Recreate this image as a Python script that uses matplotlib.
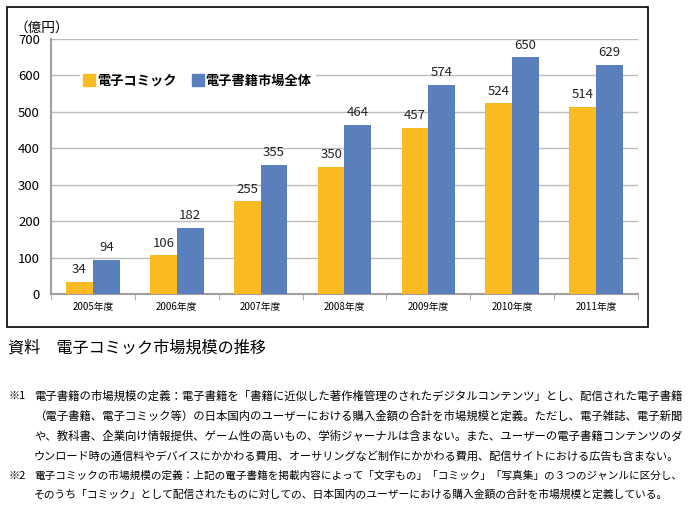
import matplotlib
matplotlib.use("Agg")
import matplotlib.pyplot as plt
import numpy as np
from matplotlib.patches import Rectangle
from matplotlib.lines import Line2D

plt.rcParams['font.family'] = ['Noto Sans CJK JP', 'DejaVu Sans']

years = ["2005年度", "2006年度", "2007年度", "2008年度", "2009年度", "2010年度", "2011年度"]
comic = [34, 106, 255, 350, 457, 524, 514]
total = [94, 182, 355, 464, 574, 650, 629]
series_names = ["電子コミック", "電子書籍市場全体"]
yticks = [0, 100, 200, 300, 400, 500, 600, 700]
ylabel = "（億円）"
caption = "資料　電子コミック市場規模の推移"
notes = [
    ("※1", "電子書籍の市場規模の定義：電子書籍を「書籍に近似した著作権管理のされたデジタルコンテンツ」とし、配信された電子書籍"),
    ("", "（電子書籍、電子コミック等）の日本国内のユーザーにおける購入金額の合計を市場規模と定義。ただし、電子雑誌、電子新聞"),
    ("", "や、教科書、企業向け情報提供、ゲーム性の高いもの、学術ジャーナルは含まない。また、ユーザーの電子書籍コンテンツのダ"),
    ("", "ウンロード時の通信料やデバイスにかかわる費用、オーサリングなど制作にかかわる費用、配信サイトにおける広告も含まない。"),
    ("※2", "電子コミックの市場規模の定義：上記の電子書籍を掲載内容によって「文字もの」「コミック」「写真集」の３つのジャンルに区分し、"),
    ("", "そのうち「コミック」として配信されたものに対しての、日本国内のユーザーにおける購入金額の合計を市場規模と定義している。"),
]

orange = "#F9BA22"
blue = "#5A7FBD"
W, H = 694, 514

fig = plt.figure(figsize=(W / 100, H / 100), dpi=100)

# chart frame
fig.patches.append(Rectangle((7 / W, 1 - 327 / H), (648 - 7) / W, (327 - 7) / H,
                             transform=fig.transFigure, fill=False, edgecolor="black", lw=1.2))

ax = fig.add_axes([51 / W, 1 - 294 / H, (638 - 51) / W, (294 - 39) / H])
x = np.arange(len(years))
bw = 0.32
b1 = ax.bar(x - bw / 2, comic, bw, color=orange, zorder=3)
b2 = ax.bar(x + bw / 2, total, bw, color=blue, zorder=3)
for bars, vals in ((b1, comic), (b2, total)):
    for rect, v in zip(bars, vals):
        ax.annotate(str(v), (rect.get_x() + rect.get_width() / 2, v), xytext=(0, 4),
                    textcoords="offset points", ha="center", va="bottom", fontsize=9.5, color="#222222")

ax.set_ylim(0, 700)
ax.set_xlim(-0.5, len(years) - 0.5)
ax.set_yticks(yticks)
ax.set_yticklabels([str(t) for t in yticks], fontsize=9.5)
ax.set_xticks(x)
ax.set_xticklabels(years, fontsize=7)
ax.set_xticks(np.arange(-0.5, len(years)), minor=True)
ax.tick_params(axis="x", which="major", length=0, pad=6)
ax.tick_params(axis="x", which="minor", length=4, color="#A0A0A0", direction="out")
ax.tick_params(axis="y", length=0, pad=8)
ax.yaxis.grid(True, color="#BDBDBD", lw=1, zorder=0)
ax.set_axisbelow(True)
for s in ("top", "right"):
    ax.spines[s].set_visible(False)
for s in ("left", "bottom"):
    ax.spines[s].set_color("#A0A0A0")
    ax.spines[s].set_linewidth(1.5)

handles = [Line2D([], [], marker="s", ls="", color=orange, markersize=8),
           Line2D([], [], marker="s", ls="", color=blue, markersize=8)]
leg = ax.legend(handles, series_names, loc="center left", bbox_to_anchor=(0.038, 0.835),
                ncol=2, frameon=True, framealpha=1, facecolor="white", edgecolor="none",
                fontsize=9.5, handlelength=0.8, handletextpad=0.2, columnspacing=1.2,
                borderpad=0.3, fancybox=False)
leg.set_zorder(5)
for t in leg.get_texts():
    t.set_fontweight("bold")

fig.text(14 / W, 1 - 28 / H, ylabel, fontsize=9.8, va="center", ha="left")

fig.text(8 / W, 1 - 348 / H, caption, fontsize=11.6, va="center", ha="left")

ys = [396, 416, 436, 456, 476, 494]
ends = [685, 683, 683, 681, 682, 673]
left_px = 34
texts = []
for (mark, line), yy in zip(notes, ys):
    if mark:
        fig.text(8 / W, 1 - yy / H, mark, fontsize=8, va="center", ha="left")
    texts.append(fig.text(left_px / W, 1 - yy / H, line, fontsize=8, va="center", ha="left"))

fig.canvas.draw()
r = fig.canvas.get_renderer()
for t, e in zip(texts, ends):
    w = t.get_window_extent(r).width
    t.set_fontsize(8 * (e - left_px) / w)

fig.savefig("out.png", dpi=100)
